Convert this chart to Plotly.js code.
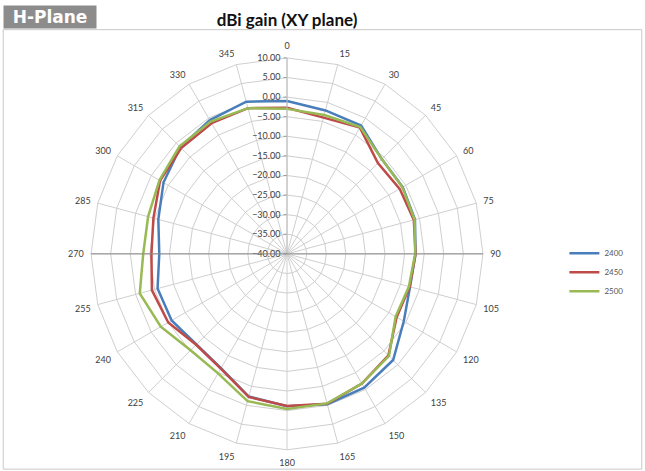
<!DOCTYPE html>
<html>
<head>
<meta charset="utf-8">
<script src="https://cdn.plot.ly/plotly-3.0.1.min.js"></script>
<style>
  html, body { margin: 0; padding: 0; background: #fff; }
  #chart { width: 645px; height: 471px; }
</style>
</head>
<body>
<div id="chart"></div>
<script>
// angles in degrees (radar categories)
var angles = ['0', '15', '30', '45', '60', '75', '90', '105', '120', '135', '150', '165',
              '180', '195', '210', '225', '240', '255', '270', '285', '300', '315', '330', '345'];

// gain in dBi
var gain2400 = [-1.0, -2.1, -2.2, -5.8, -5.9, -6.2, -7.2, -7.5, -5.6, -1.7, -0.6, -0.3,
                -1.1, -2.3, -6.3, -7.3, -6.0, -5.8, -7.4, -6.0, -3.6, -1.5, -0.6, 0.2];
var gain2450 = [-2.7, -4.0, -2.8, -7.2, -6.8, -6.5, -7.2, -7.6, -7.7, -3.4, -1.8, -0.4,
                -1.2, -2.2, -6.2, -7.2, -5.0, -4.3, -5.4, -4.7, -2.6, -1.8, -1.5, -1.5];
var gain2500 = [-3.0, -3.3, -2.6, -5.8, -6.0, -6.3, -7.3, -7.8, -8.0, -3.2, -1.8, -0.5,
                -0.4, -1.1, -4.8, -5.2, -2.8, -1.1, -3.3, -3.3, -2.4, -1.2, -1.0, -1.5];

var seriesNames = ['2400', '2450', '2500'];
var seriesColors = ['#4a7ebb', '#be4b48', '#98b954'];

function closed(arr) { return arr.concat([arr[0]]); }

var allGain = [gain2400, gain2450, gain2500];
var data = allGain.map(function (g, i) {
  return {
    type: 'scatterpolar',
    mode: 'lines',
    r: closed(g),
    theta: closed(angles),
    name: seriesNames[i],
    line: { color: seriesColors[i], width: 2.5 }
  };
});

var domX = [0.141, 0.749];
var domY = [0.045, 0.877];
var cy = (domY[0] + domY[1]) / 2;

var layout = {
  width: 645,
  height: 471,
  margin: { l: 0, r: 0, t: 0, b: 0 },
  paper_bgcolor: '#ffffff',
  font: { family: 'Lato, "Open Sans", sans-serif', size: 9, color: '#404040' },
  title: {
    text: '<b>dBi gain (XY plane)</b>',
    font: { family: 'Lato, "Open Sans", sans-serif', size: 17, color: '#111' },
    x: 0.445, xanchor: 'center', y: 0.957, yanchor: 'middle'
  },
  showlegend: true,
  legend: {
    x: 0.875, y: 0.493, xanchor: 'left', yanchor: 'top',
    font: { size: 8, color: '#555' },
    itemwidth: 30, tracegroupgap: 0,
    bgcolor: 'rgba(0,0,0,0)'
  },
  polar: {
    domain: { x: domX, y: domY },
    gridshape: 'linear',
    bgcolor: '#ffffff',
    angularaxis: {
      type: 'category',
      categoryarray: angles,
      rotation: 90,
      direction: 'clockwise',
      showline: true,
      linecolor: '#cfcfcf',
      gridcolor: '#cfcfcf',
      ticks: 'outside',
      ticklen: 5,
      tickcolor: 'rgba(0,0,0,0)',
      tickfont: { size: 9, color: '#404040' }
    },
    radialaxis: {
      range: [-40, 10],
      dtick: 5,
      tick0: -40,
      tickformat: '.2f',
      angle: 90,
      side: 'counterclockwise',
      tickangle: 90,
      showline: true,
      linecolor: '#bdbdbd',
      gridcolor: '#cfcfcf',
      ticks: 'outside',
      ticklen: 3,
      tickcolor: '#999',
      tickfont: { size: 9, color: '#404040' }
    }
  },
  shapes: [
    { type: 'rect', xref: 'paper', yref: 'paper', x0: 0.005, x1: 0.995, y0: 0.004, y1: 0.937,
      line: { color: '#c8c8c8', width: 1 } },
    { type: 'line', xref: 'paper', yref: 'paper', x0: domX[0], x1: domX[1], y0: cy, y1: cy,
      line: { color: '#8a8a8a', width: 1 } }
  ],
  annotations: [
    { text: '<b>H-Plane</b>', xref: 'paper', yref: 'paper', x: 0.005, y: 0.99,
      xanchor: 'left', yanchor: 'top', showarrow: false,
      width: 90, align: 'center',
      bgcolor: '#8c8c8c', borderpad: 1,
      font: { family: '"DejaVu Sans", "Open Sans", sans-serif', size: 17, color: '#ffffff' } }
  ]
};

Plotly.newPlot('chart', data, layout, { displayModeBar: false, staticPlot: true });
</script>
</body>
</html>
